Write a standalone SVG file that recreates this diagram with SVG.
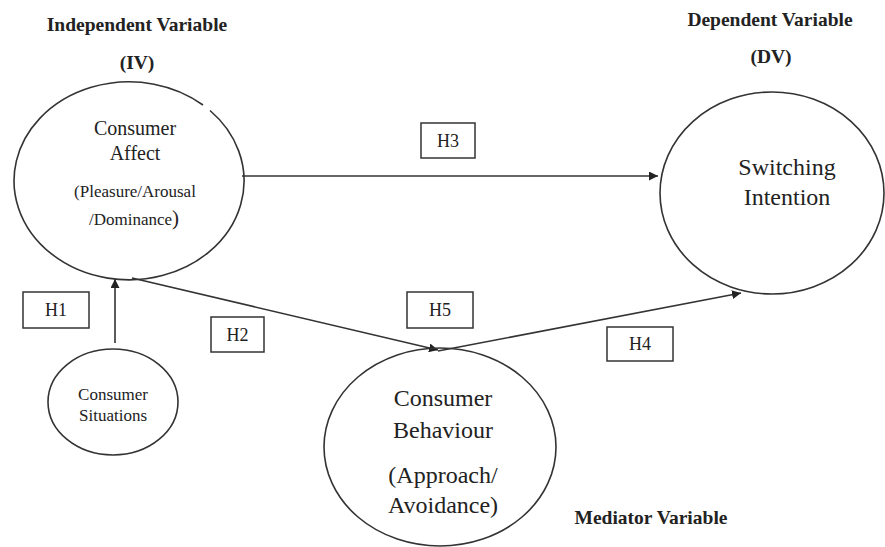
<svg xmlns="http://www.w3.org/2000/svg" width="885" height="547" viewBox="0 0 885 547">
<style>
  .node { fill: none; stroke: #333; stroke-width: 1.6; }
  .box { fill: #fff; stroke: #333; stroke-width: 1.5; }
  .conn { fill: none; stroke: #333; stroke-width: 1.6; }
  text { font-family: "Liberation Serif", "Times New Roman", serif; fill: #222; text-anchor: middle; }
  .title { font-weight: bold; font-size: 19.5px; }
  .hl { font-size: 18px; }
</style>
<defs>
  <marker id="arr" viewBox="0 0 10 10" refX="10" refY="5" markerWidth="9" markerHeight="9" markerUnits="userSpaceOnUse" orient="auto">
    <path d="M0,0 L10,5 L0,10 z" fill="#222"/>
  </marker>
</defs>
<rect width="885" height="547" fill="#fff"/>

<g id="titles">
  <text class="title" x="137" y="31">Independent Variable</text>
  <text class="title" x="137" y="69">(IV)</text>
  <text class="title" x="770" y="26">Dependent Variable</text>
  <text class="title" x="771" y="63">(DV)</text>
  <text class="title" x="651" y="524">Mediator Variable</text>
</g>

<g id="connectors">
  <line class="conn" x1="242" y1="176" x2="658" y2="176" marker-end="url(#arr)"/>
  <line class="conn" x1="115" y1="343" x2="115" y2="279" marker-end="url(#arr)"/>
  <line class="conn" x1="132" y1="278" x2="438" y2="350" marker-end="url(#arr)"/>
  <line class="conn" x1="438" y1="351" x2="741" y2="293" marker-end="url(#arr)"/>
</g>

<g id="consumer-affect">
  <path class="node" d="M210,110.5 A115,99 0 1 1 203,105"/>
  <text x="135" y="135" font-size="20">Consumer</text>
  <text x="135" y="160" font-size="20">Affect</text>
  <text x="135" y="197" font-size="17">(Pleasure/Arousal</text>
  <text x="134" y="225" font-size="17">/Dominance<tspan font-size="21">)</tspan></text>
</g>

<g id="switching-intention">
  <ellipse class="node" cx="772" cy="193" rx="112" ry="101"/>
  <text x="787" y="175" font-size="24">Switching</text>
  <text x="787" y="205" font-size="24">Intention</text>
</g>

<g id="consumer-situations">
  <ellipse class="node" cx="113" cy="402" rx="65" ry="53"/>
  <text x="113" y="400" font-size="17">Consumer</text>
  <text x="113" y="421" font-size="17">Situations</text>
</g>

<g id="consumer-behaviour">
  <ellipse class="node" cx="440" cy="447" rx="116" ry="99"/>
  <text x="443" y="406" font-size="24">Consumer</text>
  <text x="443" y="438" font-size="24">Behaviour</text>
  <text x="443" y="483" font-size="24">(Approach/</text>
  <text x="443" y="513" font-size="24">Avoidance)</text>
</g>

<g id="h1"><rect class="box" x="23" y="292" width="66" height="36"/><text class="hl" x="56" y="316">H1</text></g>
<g id="h2"><rect class="box" x="211" y="317" width="53" height="35"/><text class="hl" x="237.5" y="341">H2</text></g>
<g id="h3"><rect class="box" x="421" y="123" width="54" height="35"/><text class="hl" x="448" y="147">H3</text></g>
<g id="h4"><rect class="box" x="607" y="327" width="66" height="34"/><text class="hl" x="640" y="350">H4</text></g>
<g id="h5"><rect class="box" x="407" y="292" width="66" height="36"/><text class="hl" x="440" y="316">H5</text></g>
</svg>
